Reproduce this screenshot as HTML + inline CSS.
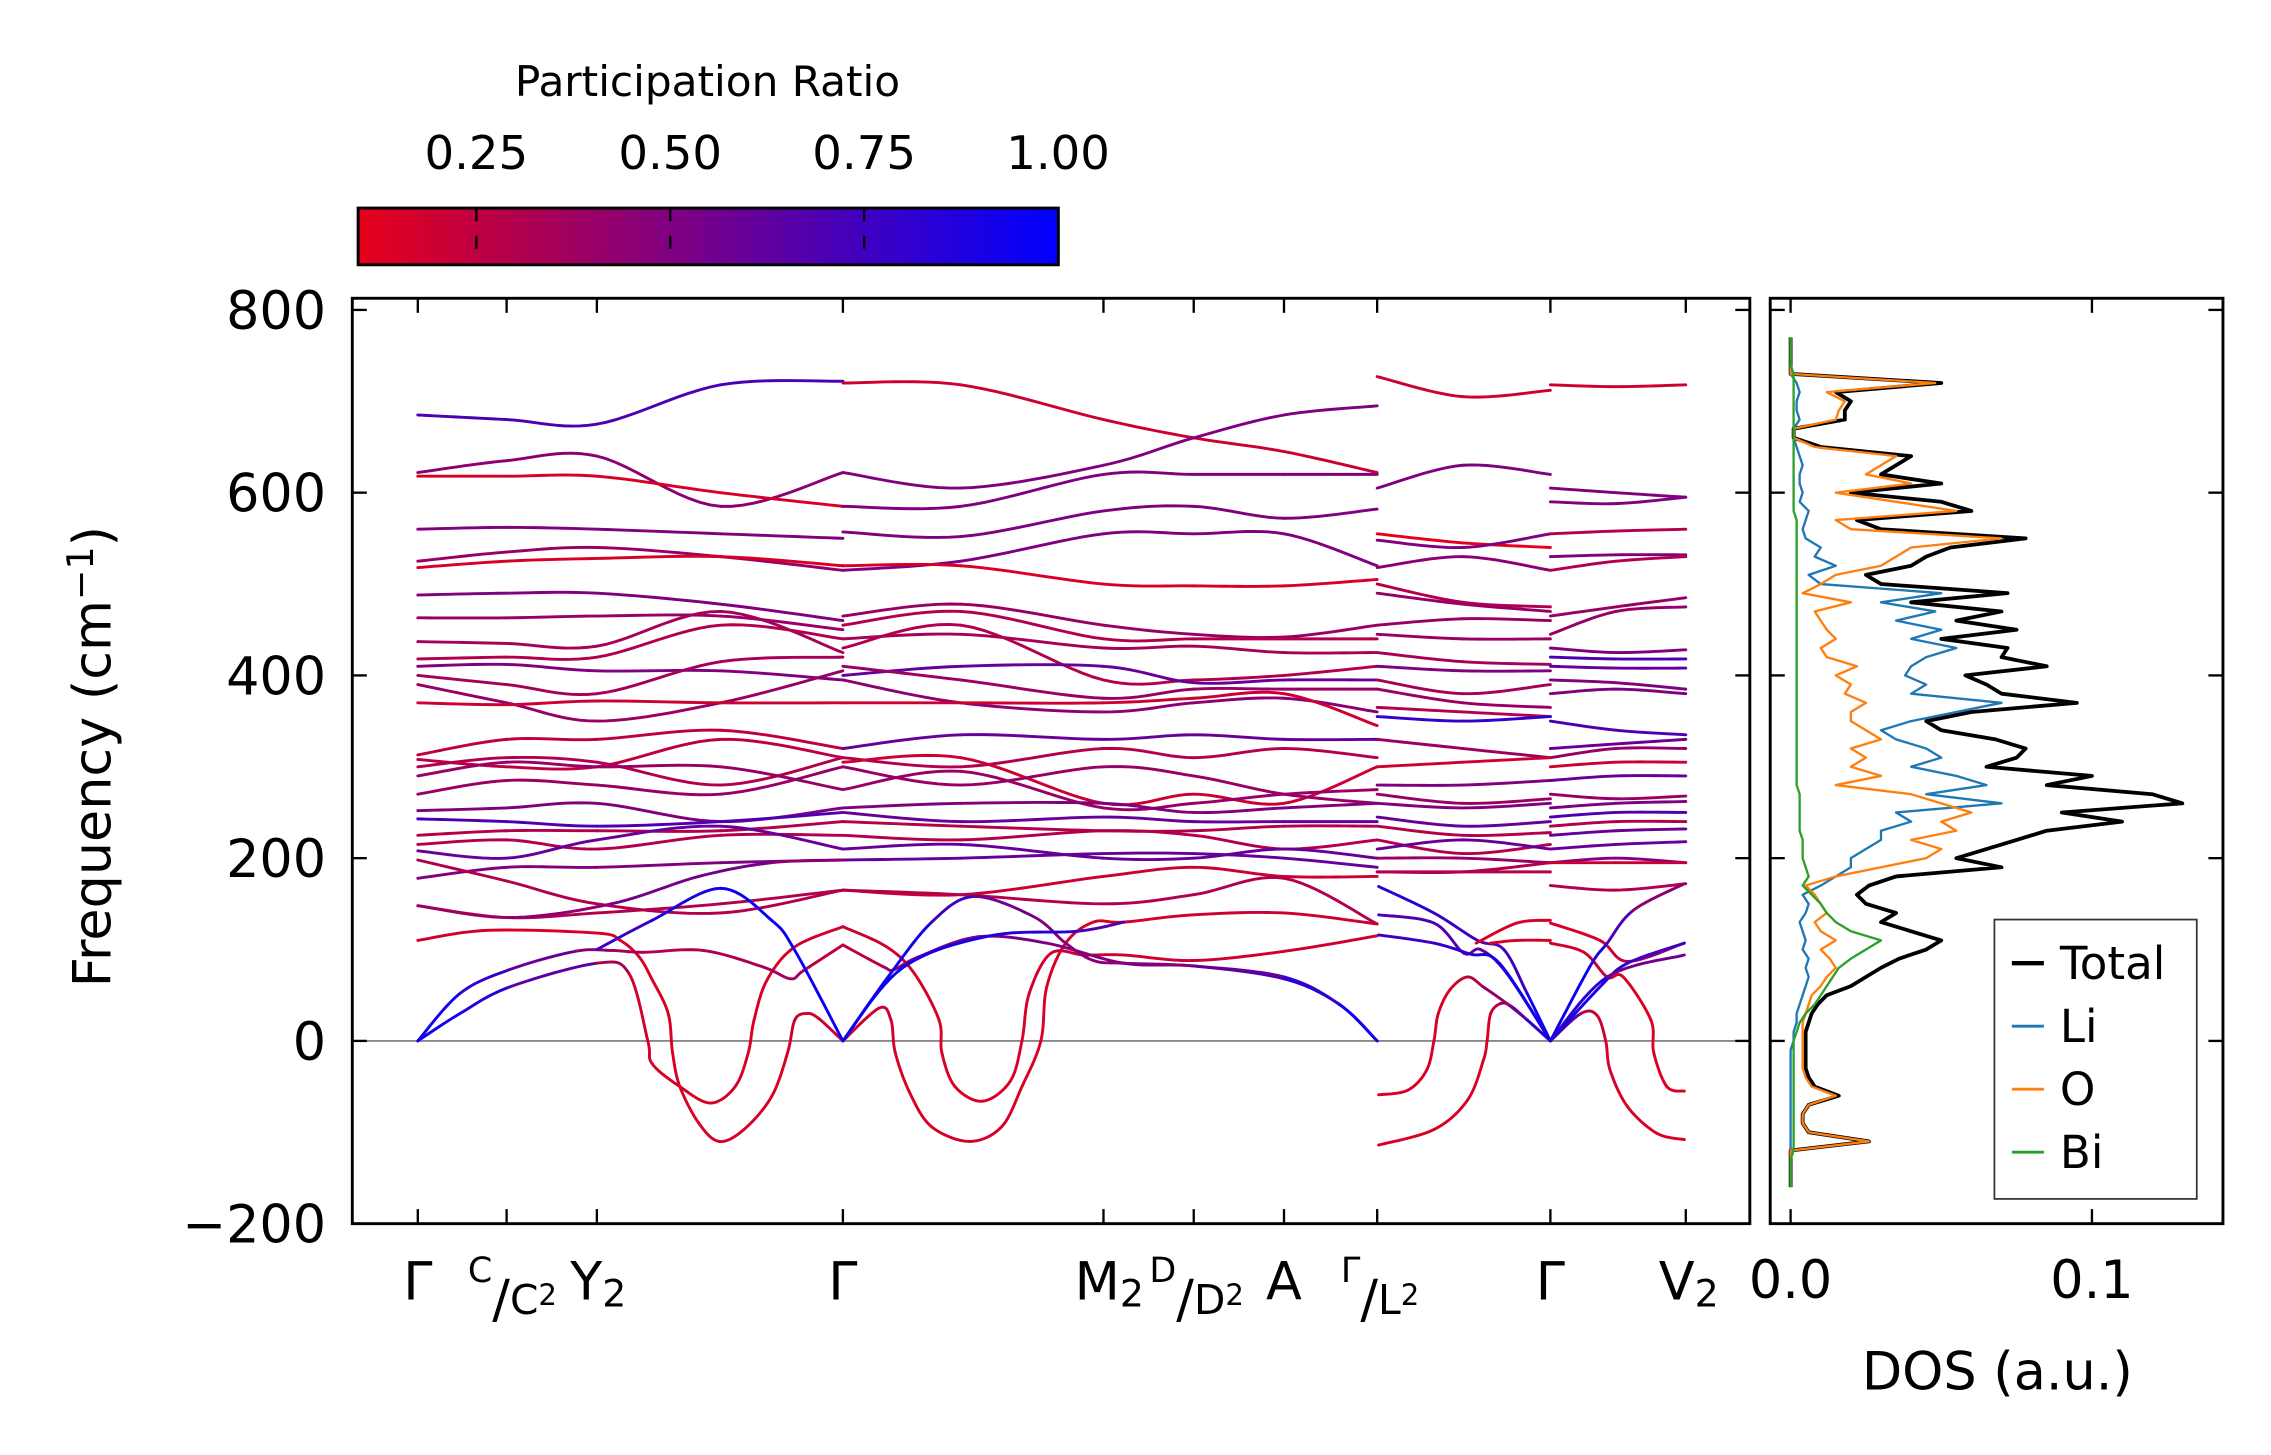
<!DOCTYPE html>
<html><head><meta charset="utf-8"><title>Phonon bands and DOS</title>
<style>html,body{margin:0;padding:0;background:#fff}svg{display:block}text{font-family:"DejaVu Sans","Liberation Sans",sans-serif;fill:#000}</style>
</head><body>
<svg id="chart" xmlns="http://www.w3.org/2000/svg" width="2271" height="1455" viewBox="0 0 1560 1000" preserveAspectRatio="none">
<defs>
<linearGradient id="cbgrad" x1="0" x2="1" y1="0" y2="0">
<stop offset="0" stop-color="rgb(230,0,26)"/><stop offset="1" stop-color="rgb(0,0,255)"/>
</linearGradient>
<clipPath id="mainclip"><rect x="242" y="205" width="960" height="636"/></clipPath>
<clipPath id="dosclip"><rect x="1216" y="205" width="311" height="636"/></clipPath>
</defs>
<g id="colorbar">
<text x="486" y="66" font-size="29" text-anchor="middle">Participation Ratio</text>
<rect x="246" y="143" width="481" height="39" fill="url(#cbgrad)" stroke="#000" stroke-width="2"/>
</g>
<rect x="242" y="205" width="960" height="636" fill="none" stroke="#000" stroke-width="2"/>
<rect x="1216" y="205" width="311" height="636" fill="none" stroke="#000" stroke-width="2"/>
<g id="bands" clip-path="url(#mainclip)"></g>
<g id="dos" clip-path="url(#dosclip)"></g>
<g id="axes"></g>
<text transform="translate(76,520) rotate(-90)" font-size="36" text-anchor="middle">Frequency (cm<tspan dy="-12" font-size="25">−1</tspan><tspan dy="12">)</tspan></text>
<text x="1372" y="955" font-size="36" text-anchor="middle">DOS (a.u.)</text>
<g id="legend">
<rect x="1370" y="632" width="139" height="192" fill="#fff" stroke="#333" stroke-width="1.2"/>
</g>
</svg>
<script>
const NS="http://www.w3.org/2000/svg";
// ---- axis data ----
const yTicks=[800,600,400,200,0,-200];
const yTickLabels=["800","600","400","200","0","\u2212200"];
const kTicks=[0,0.61,1.23,2.92,4.71,5.33,5.95,6.59,7.78,8.71];
const cbTicks=[0.25,0.50,0.75,1.00];
const cbTickLabels=["0.25","0.50","0.75","1.00"];
const dosTicks=[0.0,0.1];
const dosTickLabels=["0.0","0.1"];
// ---- band grid data ----
const gridK=[0,0.61,1.23,2.08,2.92, 2.92,3.73,4.71,5.33,5.95,6.59, 6.59,7.18,7.78, 7.78,8.23,8.71];
const gridSegStart=[0,5,11,14];
const bandF=[
[685,680,675,718,722, 720,718,680,660,645,622, 727,705,712, 718,716,718],
[622,635,640,585,622, 622,605,630,660,685,695, 605,630,620, 605,600,595],
[618,618,618,600,585, 585,585,620,620,620,620, 555,545,540, 590,588,595],
[560,562,560,555,550, 557,552,580,585,572,582, 548,540,555, 555,558,560],
[525,535,540,530,515, 515,525,555,555,555,520, 518,530,515, 530,532,532],
[518,525,528,530,520, 520,520,500,498,498,505, 500,480,475, 515,525,530],
[488,490,490,478,460, 465,478,455,445,442,455, 490,478,470, 465,475,485],
[463,463,465,465,450, 455,470,440,440,440,440, 455,462,460, 445,470,475],
[437,435,432,470,425, 440,445,430,432,425,425, 445,440,440, 430,425,428],
[418,420,420,455,440, 430,455,395,395,400,410, 425,415,412, 420,418,418],
[410,412,405,405,395, 400,410,410,392,395,395, 410,405,405, 410,408,408],
[400,390,380,415,420, 410,395,375,385,385,385, 395,380,390, 395,392,385],
[390,370,350,370,405, 395,370,360,370,375,360, 385,370,365, 380,385,380],
[370,368,372,370,370, 370,370,370,375,380,345, 365,360,355, 350,340,335],
[313,330,330,340,320, 320,335,330,335,330,330, 355,350,355, 320,325,330],
[308,300,300,330,310, 310,300,320,310,320,310, 330,320,310, 310,320,320],
[300,310,305,280,310, 305,310,260,270,260,300, 300,305,310, 300,305,305],
[290,305,300,300,275, 275,295,255,260,270,275, 280,280,285, 285,290,290],
[270,285,280,270,300, 300,280,300,290,270,260, 270,260,265, 270,265,268],
[252,255,260,240,255, 255,260,260,250,255,260, 260,255,260, 255,260,262],
[243,240,235,240,250, 250,240,245,240,240,240, 245,235,240, 245,250,250],
[225,230,230,230,240, 240,235,230,230,235,235, 235,225,228, 235,240,240],
[215,220,210,225,225, 225,220,230,225,210,220, 220,205,215, 225,230,232],
[208,200,220,235,210, 210,215,200,200,210,200, 210,220,210, 210,215,218],
[178,190,190,195,198, 198,200,205,205,200,190, 200,200,195, 195,200,195],
[198,175,150,140,165, 165,160,180,190,180,180, 185,185,195, 195,195,195],
[148,135,140,150,165, 165,160,150,160,178,128, 185,185,185, 170,165,172]
];
const bandPR=[
[0.7,0.2,0.2,0.2],[0.45,0.5,0.5,0.5],[0.15,0.5,0.1,0.5],[0.5,0.5,0.5,0.3],
[0.4,0.5,0.45,0.5],[0.15,0.15,0.3,0.3],[0.5,0.4,0.4,0.4],[0.4,0.3,0.4,0.4],
[0.35,0.35,0.4,0.5],[0.3,0.3,0.35,0.7],[0.5,0.6,0.5,0.6],[0.35,0.4,0.35,0.5],
[0.4,0.45,0.4,0.5],[0.2,0.2,0.3,0.7],[0.25,0.6,0.8,0.6],[0.25,0.3,0.4,0.4],
[0.3,0.2,0.2,0.2],[0.4,0.4,0.5,0.6],[0.4,0.4,0.4,0.4],[0.5,0.5,0.5,0.5],
[0.7,0.6,0.6,0.7],[0.3,0.3,0.3,0.3],[0.3,0.3,0.3,0.6],[0.6,0.6,0.6,0.6],
[0.5,0.6,0.4,0.5],[0.3,0.2,0.3,0.2],[0.3,0.3,0.3,0.3]
];
// ---- special (acoustic / soft-mode) branches ----
const specK=[
[0,0.48,1.23,1.39,1.52,1.61,1.72,1.75,1.80,1.93,2.07,2.24,2.43,2.54,2.59,2.67,2.75,2.92],
[2.92,3.17,3.25,3.28,3.38,3.53,3.79,4.01,4.15,4.28,4.32,4.45,4.64,4.85,5.33,5.95,6.59],
[0,0.29,0.63,1.23,1.45,1.58,1.61,1.80,2.01,2.18,2.27,2.31,2.40,2.59,2.92],
[2.92,3.22,3.41,3.58,3.60,3.69,3.88,4.07,4.15,4.20,4.35,4.58,4.85,5.33,5.95,6.59],
[0,0.29,0.63,1.08,1.33,1.55,1.96,2.37,2.56,2.65,2.92],
[2.92,3.20,3.27,3.44,3.85,4.32,4.85,5.33,5.95,6.33,6.59],
[1.23,1.61,2.08,2.43,2.59,2.92],
[0,0.63,1.33,1.93,2.43,2.92],
[2.92,3.23,3.53,3.82,4.23,4.45,4.64,4.85,5.33,5.95,6.33,6.59],
[2.92,3.33,3.93,4.53,4.85],
[6.60,6.80,6.93,6.98,7.01,7.09,7.21,7.32,7.48,7.62,7.78],
[6.60,6.98,7.21,7.32,7.345,7.37,7.44,7.51,7.62,7.78],
[7.78,7.99,8.10,8.16,8.19,8.31,8.51,8.70],
[7.78,8.12,8.31,8.70],
[7.78,8.01,8.17,8.28,8.47,8.49,8.58,8.70],
[6.60,6.98,7.28,7.46,7.62,7.78],
[6.60,6.98,7.185,7.30,7.48,7.78],
[6.60,6.98,7.23,7.43,7.78],
[7.37,7.55,7.78],
[7.27,7.55,7.78],
[7.78,8.05,8.17,8.35,8.70],
[7.78,8.12,8.31,8.70],
[7.78,8.17,8.70]
];
const specF=[
[110,121,118,110,92,67,30,-13,-50,-90,-110,-97,-61,-13,23,30,25,0],
[0,36,23,-13,-57,-94,-110,-94,-50,0,59,107,130,130,138,140,128],
[0,30,59,85,74,0,-25,-50,-68,-50,-13,23,67,103,125],
[125,103,74,23,-13,-50,-66,-44,0,52,96,94,94,88,98,115],
[0,52,78,98,99,97,99,81,68,77,105],
[105,81,78,92,114,107,85,82,68,40,0],
[100,132,167,132,99,0],
[148,135,150,180,195,198],
[0,70,130,158,136,107,88,85,82,70,40,0],
[0,80,115,120,130],
[-59,-54,-32,0,30,56,70,59,41,23,0],
[-114,-97,-65,-21,0,30,41,38,23,0],
[0,30,28,0,-32,-72,-101,-108],
[129,110,87,107],
[107,97,70,70,23,-13,-50,-55],
[169,140,110,100,52,0],
[138,129,96,100,74,0],
[116,107,95,85,0],
[107,110,110],
[107,129,132],
[0,81,107,143,172],
[0,59,85,107],
[0,70,94]
];
const specPR=[
[0.2,0.15,0.15,0.15,0.15,0.15,0.15,0.15,0.15,0.15,0.15,0.15,0.15,0.15,0.2,0.2,0.2,0.2],
[0.2,0.2,0.2,0.15,0.15,0.15,0.15,0.15,0.15,0.15,0.15,0.15,0.15,0.15,0.2,0.2,0.2],
[0.95,0.9,0.8,0.5,0.2,0.15,0.15,0.15,0.15,0.15,0.15,0.15,0.15,0.15,0.2],
[0.2,0.2,0.15,0.15,0.15,0.15,0.15,0.15,0.15,0.15,0.2,0.2,0.2,0.2,0.2,0.2],
[0.95,0.9,0.7,0.5,0.4,0.3,0.3,0.35,0.4,0.3,0.2],
[0.2,0.3,0.5,0.5,0.55,0.5,0.5,0.6,0.8,0.9,0.95],
[0.7,0.85,0.95,0.95,0.95,0.95],
[0.35,0.4,0.5,0.6,0.5,0.4],
[0.95,0.95,0.9,0.6,0.5,0.45,0.45,0.45,0.5,0.7,0.9,0.95],
[0.95,0.95,0.9,0.8,0.6],
[0.15,0.15,0.15,0.15,0.15,0.15,0.2,0.35,0.5,0.7,0.9],
[0.15,0.15,0.15,0.15,0.15,0.15,0.3,0.5,0.7,0.9],
[0.95,0.3,0.2,0.15,0.15,0.15,0.15,0.15],
[0.15,0.15,0.3,0.6],
[0.15,0.2,0.2,0.15,0.15,0.15,0.15,0.15],
[0.8,0.85,0.7,0.6,0.9,0.95],
[0.7,0.7,0.7,0.5,0.8,0.95],
[0.7,0.8,0.85,0.9,0.95],
[0.15,0.15,0.15],
[0.15,0.15,0.15],
[0.95,0.95,0.8,0.6,0.3],
[0.95,0.9,0.8,0.7],
[0.95,0.7,0.4]
];
// ---- DOS data ----
const dosFreq=[-160,-150,-140,-130,-120,-110,-100,-90,-80,-70,-60,-50,-40,-30,-20,-10,0,10,20,30,40,50,60,70,80,90,100,110,120,130,140,150,160,170,180,190,200,210,220,230,240,250,260,270,280,290,300,310,320,330,340,350,360,370,380,390,400,410,420,430,440,450,460,470,480,490,500,510,520,530,540,550,560,570,580,590,600,610,620,630,640,650,660,670,680,690,700,710,720,730,740,750,760,770];
const dosTotal=[0,0,0,0,
0,0.026,0.006,0.004,0.004,0.006,0.016,0.008,0.006,0.005,
0.005,0.005,0.005,0.005,0.006,0.007,0.009,0.012,0.02,0.025,
0.03,0.036,0.045,0.05,0.04,0.03,0.035,0.025,0.022,0.026,
0.035,0.07,0.055,0.065,0.075,0.085,0.11,0.09,0.13,0.12,
0.085,0.1,0.065,0.075,0.078,0.068,0.05,0.045,0.06,0.095,
0.07,0.065,0.058,0.085,0.07,0.072,0.05,0.075,0.055,0.07,
0.04,0.072,0.03,0.025,0.04,0.045,0.053,0.078,0.03,0.022,
0.06,0.05,0.02,0.05,0.03,0.035,0.04,0.01,0.001,0.001,
0.018,0.018,0.02,0.015,0.05,0,0,0,0,0];
const dosO=[0,0,0,0,
0,0.026,0.006,0.004,0.004,0.006,0.015,0.007,0.005,0.004,
0.004,0.004,0.004,0.004,0.004,0.005,0.006,0.007,0.01,0.012,
0.015,0.013,0.01,0.015,0.01,0.008,0.012,0.01,0.008,0.005,
0.015,0.03,0.045,0.05,0.04,0.055,0.05,0.06,0.05,0.04,
0.015,0.03,0.02,0.025,0.02,0.03,0.025,0.02,0.02,0.025,
0.018,0.02,0.015,0.022,0.012,0.01,0.015,0.012,0.01,0.008,
0.02,0.004,0.01,0.015,0.03,0.035,0.04,0.07,0.02,0.015,
0.055,0.035,0.015,0.04,0.025,0.03,0.035,0.008,0.001,0.001,
0.015,0.016,0.018,0.012,0.048,0,0,0,0,0];
const dosLi=[0,0,0,0,
0,0,0,0,0,0,0,0,0,0,
0,0,0.001,0.001,0.002,0.002,0.003,0.004,0.005,0.006,
0.005,0.006,0.004,0.005,0.004,0.003,0.005,0.006,0.004,0.01,
0.015,0.02,0.02,0.025,0.03,0.03,0.04,0.035,0.07,0.045,
0.065,0.055,0.04,0.05,0.045,0.035,0.03,0.04,0.055,0.07,
0.04,0.045,0.038,0.04,0.045,0.055,0.04,0.05,0.035,0.048,
0.03,0.05,0.01,0.006,0.015,0.008,0.01,0.005,0.004,0.005,
0.006,0.003,0.004,0.003,0.003,0.004,0.003,0.002,0.001,0.001,
0.003,0.002,0.002,0.003,0.002,0,0,0,0,0];
const dosBi=[0,0,0,0,
0.001,0.001,0.001,0.001,0.001,0.001,0.001,0.001,0.001,0.001,
0.001,0.001,0.001,0.002,0.003,0.005,0.008,0.01,0.012,0.014,
0.016,0.02,0.025,0.03,0.02,0.015,0.012,0.01,0.007,0.004,
0.006,0.005,0.004,0.004,0.004,0.003,0.003,0.003,0.003,0.003,
0.002,0.002,0.002,0.002,0.002,0.002,0.002,0.002,0.002,0.002,
0.002,0.002,0.002,0.002,0.002,0.002,0.002,0.002,0.002,0.002,
0.002,0.002,0.002,0.002,0.002,0.002,0.002,0.002,0.002,0.002,
0.001,0.001,0.001,0.001,0.001,0.001,0.001,0.001,0.001,0.001,
0.001,0.001,0.001,0.001,0.001,0.001,0,0,0,0];
const dosSeriesNames=["Total","Li","O","Bi"];
const dosSeriesColors=["#000000","#1f77b4","#ff7f0e","#2ca02c"];

// ---- scales ----
const X0=287, KPX=100;
function xK(k){return X0+k*KPX;}
function yF(f){return 715.4-f*0.628;}
function xDos(v){return 1230+v*2070;}
function xCb(p){return 194+p*532.8;}
function prColor(p){p=Math.max(0,Math.min(1,p));return "rgb("+Math.round(255*(1-p))+",0,"+Math.round(255*p)+")";}

const svg=document.getElementById("chart");
const gB=document.getElementById("bands");
const gD=document.getElementById("dos");
const gA=document.getElementById("axes");
const gL=document.getElementById("legend");
function mk(tag,attrs,parent){const e=document.createElementNS(NS,tag);for(const a in attrs)e.setAttribute(a,attrs[a]);(parent||svg).appendChild(e);return e;}

const zl=mk("line",{x1:242,x2:1202,y1:yF(0),y2:yF(0),stroke:"#888",'stroke-width':1.3},gB);



function cr(p0,p1,p2,p3,t){const t2=t*t,t3=t2*t;return 0.5*((2*p1)+(-p0+p2)*t+(2*p0-5*p1+4*p2-p3)*t2+(-p0+3*p1-3*p2+p3)*t3);}
function drawCurve(ks,fs,prs,name){
  const px=ks.map(xK), py=fs.map(yF), n=px.length;
  for(let i=0;i<n-1;i++){
    const i0=Math.max(0,i-1), i3=Math.min(n-1,i+2);
    let pts=[];
    for(let s=0;s<=12;s++){const t=s/12;pts.push(cr(px[i0],px[i],px[i+1],px[i3],t).toFixed(2)+","+cr(py[i0],py[i],py[i+1],py[i3],t).toFixed(2));}
    const pl=mk("polyline",{points:pts.join(" "),fill:"none",stroke:prColor((prs[i]+prs[i+1])/2),'stroke-width':2,'stroke-linecap':'round'},gB);
    
    
  }
}
bandF.forEach((row,b)=>{
  for(let s=0;s<gridSegStart.length;s++){
    const a=gridSegStart[s], e=(s+1<gridSegStart.length)?gridSegStart[s+1]:gridK.length;
    const ks=gridK.slice(a,e), fs=row.slice(a,e), prs=ks.map(()=>bandPR[b][s]);
    drawCurve(ks,fs,prs,"phonon-band-"+(b+1));
  }
});
specK.forEach((ks,i)=>drawCurve(ks,specF[i],specPR[i],"phonon-branch-"+(i+1)));

const dosVals=[dosTotal,dosLi,dosO,dosBi];
dosVals.forEach((vals,si)=>{
  const pts=vals.map((v,i)=>xDos(v).toFixed(2)+","+yF(dosFreq[i]).toFixed(2)).join(" ");
  const pl=mk("polyline",{points:pts,fill:"none",stroke:dosSeriesColors[si],'stroke-width':si==0?2.6:1.6,'stroke-linejoin':'round'},gD);
  
  
});

yTicks.forEach((v,i)=>{
  const y=yF(v);
  [[242,252],[1192,1202],[1216,1226],[1517,1527]].forEach(([a,b])=>{
    const t=mk("line",{x1:a,x2:b,y1:y,y2:y,stroke:"#000",'stroke-width':1.6},gA);
    
    
  });
  const tx=mk("text",{x:224,y:y+13,'font-size':36,'text-anchor':'end'},gA);
  tx.textContent=yTickLabels[i];
  
  
});
kTicks.forEach(k=>{
  const x=xK(k);
  [[205,215],[831,841]].forEach(([a,b])=>{
    const t=mk("line",{x1:x,x2:x,y1:a,y2:b,stroke:"#000",'stroke-width':1.6},gA);
    
    
  });
});
dosTicks.forEach((v,i)=>{
  const x=xDos(v);
  [[205,215],[831,841]].forEach(([a,b])=>{
    const t=mk("line",{x1:x,x2:x,y1:a,y2:b,stroke:"#000",'stroke-width':1.6},gA);
    
    
  });
  const tx=mk("text",{x:x,y:892,'font-size':36,'text-anchor':'middle'},gA);
  tx.textContent=dosTickLabels[i];
  
  
});
cbTicks.forEach((p,i)=>{
  const x=xCb(p);
  if(p<1){
    const t=mk("line",{x1:x,x2:x,y1:143,y2:182,stroke:"#000",'stroke-width':1.6,'stroke-dasharray':'9,10'},gA);
    
    
  }
  const tx=mk("text",{x:x,y:116,'font-size':32,'text-anchor':'middle'},gA);
  tx.textContent=cbTickLabels[i];
  
  
});

// high-symmetry labels: [text, baseline offset, font size]
const hsLabels=[
 {x:287,parts:[["Γ",0,36]]},
 {x:352,parts:[["C",-12,24],["/",12,36],["C",10,28],["2",4,20]]},
 {x:411,parts:[["Y",0,36],["2",5,26]]},
 {x:579,parts:[["Γ",0,36]]},
 {x:762,parts:[["M",0,36],["2",5,26]]},
 {x:822,parts:[["D",-12,24],["/",12,36],["D",10,28],["2",4,20]]},
 {x:882,parts:[["A",0,36]]},
 {x:948,parts:[["Γ",-12,24],["/",12,36],["L",10,28],["2",4,20]]},
 {x:1065,parts:[["Γ",0,36]]},
 {x:1160,parts:[["V",0,36],["2",5,26]]}
];
hsLabels.forEach((L,i)=>{
  const t=mk("text",{x:L.x,y:893,'text-anchor':'middle'},gA);
  let cur=0;
  L.parts.forEach(([s,off,fs])=>{
    const sp=document.createElementNS(NS,"tspan");
    sp.setAttribute("dy",off-cur);cur=off;
    sp.setAttribute("font-size",fs);
    sp.textContent=s;t.appendChild(sp);
  });
  
  
});

dosSeriesNames.forEach((n,i)=>{
  const y=662+i*43.3;
  const ln=mk("line",{x1:1382,x2:1404,y1:y,y2:y,stroke:dosSeriesColors[i],'stroke-width':i==0?3:2},gL);
  
  
  const tx=mk("text",{x:1415,y:y+11,'font-size':31},gL);
  tx.textContent=n;
  
  
});
</script>
</body></html>
